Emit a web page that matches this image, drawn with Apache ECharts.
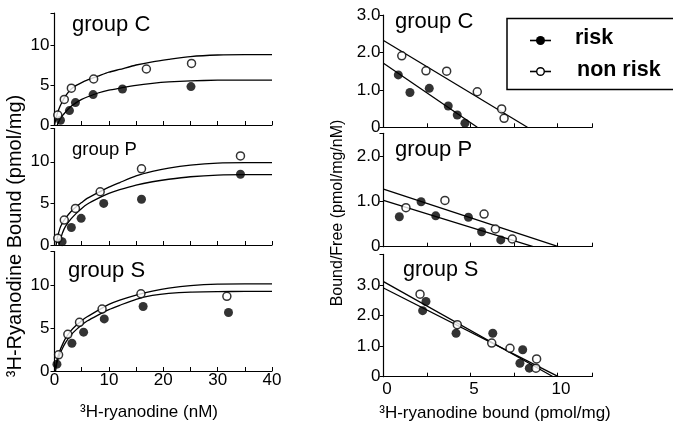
<!DOCTYPE html>
<html>
<head>
<meta charset="utf-8">
<script src="https://cdn.jsdelivr.net/npm/echarts@6/dist/echarts.min.js"></script>
<style>html,body{margin:0;padding:0;background:#fff}#c{width:673px;height:423px}</style>
</head>
<body>
<div id="c"></div>
<script>
// ---- Left panels: saturation binding, [ryanodine nM, bound pmol/mg]
const satC_risk = [[1.1,0.6],[2.75,1.8],[3.85,2.8],[7.1,3.8],[12.5,4.5],[25.1,4.8]];
const satC_non  = [[0.6,1.25],[1.8,3.2],[3.1,4.6],[7.2,5.75],[16.9,7.0],[25.2,7.7]];
const fitC_risk = [[0.5,0],[1,0.7],[1.5,1.2],[2,1.6],[3,2.3],[4,2.8],[5,3.2],[6,3.5],[8,4.0],[10,4.35],[12,4.6],[15,4.95],[18,5.2],[21,5.38],[25,5.52],[30,5.6],[35,5.62],[40,5.62]];
const fitC_non  = [[0,0],[0.5,1.4],[1,2.3],[1.5,3.0],[2,3.6],[3,4.45],[4,4.95],[5,5.3],[6,5.6],[8,6.1],[10,6.6],[12,6.95],[15,7.5],[18,7.9],[21,8.2],[25,8.55],[30,8.75],[35,8.8],[40,8.8]];

const satP_risk = [[1.4,0.4],[3.1,2.1],[4.9,3.2],[9.05,5.0],[16.0,5.5],[34.2,8.5]];
const satP_non  = [[0.6,0.8],[1.8,3.0],[3.85,4.4],[8.4,6.4],[16.0,9.15],[34.2,10.7]];
const fitP_risk = [[0.8,0],[1,0.5],[1.5,1.5],[2,2.2],[3,3.1],[4,3.8],[5,4.4],[6,4.9],[8,5.6],[10,6.2],[12,6.65],[15,7.2],[18,7.6],[21,7.9],[25,8.2],[30,8.4],[35,8.45],[40,8.45]];
const fitP_non  = [[0.3,0],[0.5,0.8],[1,2.0],[1.5,2.7],[2,3.2],[3,4.0],[4,4.6],[5,5.1],[6,5.6],[8,6.3],[10,6.95],[12,7.5],[15,8.3],[18,8.85],[21,9.25],[25,9.6],[30,9.85],[35,9.9],[40,9.9]];

const satS_risk = [[0.45,0.8],[3.2,3.25],[5.35,4.55],[9.15,6.1],[16.3,7.55],[32.0,6.85]];
const satS_non  = [[0.75,1.9],[2.45,4.3],[4.6,5.7],[8.75,7.25],[15.9,9.05],[31.7,8.75]];
const fitS_risk = [[0.2,0],[0.5,1.1],[1,2.0],[1.5,2.7],[2,3.3],[3,4.2],[4,4.85],[5,5.4],[6,5.85],[8,6.55],[10,7.2],[12,7.7],[15,8.4],[18,8.85],[21,9.1],[25,9.25],[30,9.3],[35,9.32],[40,9.32]];
const fitS_non  = [[0,0],[0.5,1.4],[1,2.4],[1.5,3.15],[2,3.8],[3,4.7],[4,5.35],[5,5.9],[6,6.35],[8,7.1],[10,7.8],[12,8.3],[15,8.9],[18,9.35],[21,9.7],[25,10.0],[30,10.18],[35,10.2],[40,10.2]];

// ---- Right panels: Scatchard plots, [bound pmol/mg, bound/free pmol/mg/nM]
const scC_risk = [[0.85,1.40],[1.52,0.93],[2.63,1.04],[3.72,0.57],[4.24,0.33],[4.68,0.11]];
const scC_non  = [[1.05,1.91],[2.44,1.51],[3.63,1.50],[5.39,0.95],[6.79,0.49],[6.93,0.24]];
const lnC_risk = [[0,1.71],[5.39,0]];
const lnC_non  = [[0,2.32],[8.27,0]];

const scP_risk = [[0.91,0.66],[2.16,0.99],[3.0,0.68],[4.88,0.65],[5.64,0.33],[6.74,0.15]];
const scP_non  = [[1.29,0.86],[3.53,1.02],[5.78,0.72],[6.43,0.39],[7.40,0.17]];
const lnP_risk = [[0,1.02],[8.6,0]];
const lnP_non  = [[0,1.27],[10.05,0]];

const scS_risk = [[2.25,2.16],[2.44,2.46],[4.17,1.42],[6.28,1.42],[8.0,0.88],[7.84,0.44],[8.38,0.28]];
const scS_non  = [[2.10,2.70],[4.24,1.70],[6.22,1.10],[7.27,0.93],[8.80,0.58],[8.76,0.28]];
const lnS_risk = [[0,3.11],[9.75,0]];
const lnS_non  = [[0,2.90],[10.05,0]];

const groupNames = ['group C','group P','group S'];
const legendNames = ['risk','non risk'];
const leftXTitle = '³H-ryanodine (nM)';
const rightXTitle = '³H-ryanodine bound (pmol/mg)';
const leftYTitle = '³H-Ryanodine Bound (pmol/mg)';
const rightYTitle = 'Bound/Free (pmol/mg/nM)';

const FONT = '"Liberation Sans", Arial, Helvetica, sans-serif';
const chart = echarts.init(document.getElementById('c'), null, {renderer:'canvas'});

const grids = [
  {left:54.5, top:13,    width:217.5, height:112},
  {left:54.5, top:128.5, width:217.5, height:116.5},
  {left:54.5, top:251.5, width:217.5, height:119.5},
  {left:383.5, top:15,    width:208.8, height:112.3},
  {left:383.5, top:133.3, width:208.8, height:113.4},
  {left:383.5, top:254.4, width:208.8, height:122.3}
];
const axLine = {show:true, onZero:false, lineStyle:{color:'#000', width:1.2}};
const xAxes = [], yAxes = [];
for (let i=0;i<6;i++){
  const left = i<3;
  const bottom = (i===2 || i===5);
  xAxes.push({
    type:'value', gridIndex:i, min:0, max:left?40:12, interval:left?5:2.5,
    axisLine:axLine, splitLine:{show:false},
    axisTick:{show:true, inside:true, length:4, lineStyle:{color:'#000', width:1}},
    axisLabel:{show:bottom, color:'#000', fontFamily:FONT, fontSize:17, margin:left?1:4,
      padding: left?0:[0,0,0,7],
      formatter:(v)=> (left ? (v%10===0 ? String(v) : '') : (v%5===0 ? String(v) : ''))}
  });
  const ymax = left ? 14 : [3,2.5,4][i-3];
  const labMax = left ? 10 : [3,2,3][i-3];
  yAxes.push({
    type:'value', gridIndex:i, min:0, max:ymax, interval:left?5:1,
    axisLine:axLine, splitLine:{show:false},
    axisTick:{show:true, inside:false, length:4, lineStyle:{color:'#000', width:1}},
    axisLabel:{color:'#000', fontFamily:FONT, fontSize:17, margin:left?5:3,
      formatter:(v)=> {
        if (left) return (v%5===0 && v<=labMax) ? String(v) : '';
        if (v===0) return '0';
        return (Math.abs(v-Math.round(v))<1e-9 && v<=labMax) ? v.toFixed(1) : '';
      }}
  });
}

function pts(data, idx, filled){
  return {type:'scatter', xAxisIndex:idx, yAxisIndex:idx, data:data, symbol:'circle',
    symbolSize: filled?9:8, z:5, silent:true,
    itemStyle: filled ? {color:'#000'} : {color:'#fff', borderColor:'#000', borderWidth:1.5}};
}
function line(data, idx, smooth){
  return {type:'line', xAxisIndex:idx, yAxisIndex:idx, data:data, showSymbol:false, symbol:'none',
    smooth: smooth?0.2:false, z:3, silent:true,
    lineStyle:{color:'#000', width:1.3}};
}
const series = [
  line(fitC_risk,0,true), line(fitC_non,0,true), pts(satC_risk,0,true), pts(satC_non,0,false),
  line(fitP_risk,1,true), line(fitP_non,1,true), pts(satP_risk,1,true), pts(satP_non,1,false),
  line(fitS_risk,2,true), line(fitS_non,2,true), pts(satS_risk,2,true), pts(satS_non,2,false),
  line(lnC_risk,3,false), line(lnC_non,3,false), pts(scC_risk,3,true), pts(scC_non,3,false),
  line(lnP_risk,4,false), line(lnP_non,4,false), pts(scP_risk,4,true), pts(scP_non,4,false),
  line(lnS_risk,5,false), line(lnS_non,5,false), pts(scS_risk,5,true), pts(scS_non,5,false)
];

function txt(text, x, y, size, opts){
  return Object.assign({type:'text', x:x, y:y, silent:true, z:10,
    style:Object.assign({text:text, fill:'#000', font: (opts&&opts.bold?'bold ':'')+size+'px '+FONT,
      textAlign:'left', textVerticalAlign:'middle'}, opts&&opts.style||{})}, opts&&opts.el||{});
}
const graphic = [
  txt(groupNames[0], 72, 25, 22),
  txt(groupNames[1], 72, 150, 18.5),
  txt(groupNames[2], 68, 271, 22),
  txt(groupNames[0], 395, 21.7, 22),
  txt(groupNames[1], 395, 150, 22),
  txt(groupNames[2], 403, 270.5, 21.5),
  txt(leftXTitle, 149, 412, 17, {style:{textAlign:'center'}}),
  txt(rightXTitle, 495, 413, 17, {style:{textAlign:'center'}}),
  txt(leftYTitle, 15, 236, 20, {style:{textAlign:'center'}, el:{rotation:Math.PI/2}}),
  txt(rightYTitle, 338, 213, 16, {style:{textAlign:'center'}, el:{rotation:Math.PI/2}}),
  // legend box
  {type:'rect', shape:{x:507, y:18.5, width:175, height:71}, silent:true, z:9,
    style:{fill:'transparent', stroke:'#000', lineWidth:1.5}},
  {type:'rect', shape:{x:530, y:39.7, width:21, height:1.6}, silent:true, z:10, style:{fill:'#000'}},
  {type:'circle', shape:{cx:540.5, cy:40.5, r:4.5}, silent:true, z:11, style:{fill:'#000'}},
  {type:'rect', shape:{x:530, y:70.7, width:21, height:1.6}, silent:true, z:10, style:{fill:'#000'}},
  {type:'circle', shape:{cx:540.5, cy:71.5, r:3.8}, silent:true, z:11, style:{fill:'#fff', stroke:'#000', lineWidth:1.4}},
  txt(legendNames[0], 575, 38.5, 21.5, {bold:true}),
  txt(legendNames[1], 577, 70.5, 21.5, {bold:true})
];

chart.setOption({
  backgroundColor:'#fff',
  animation:false,
  grid:grids, xAxis:xAxes, yAxis:yAxes, series:series, graphic:graphic
});
</script>
</body>
</html>
